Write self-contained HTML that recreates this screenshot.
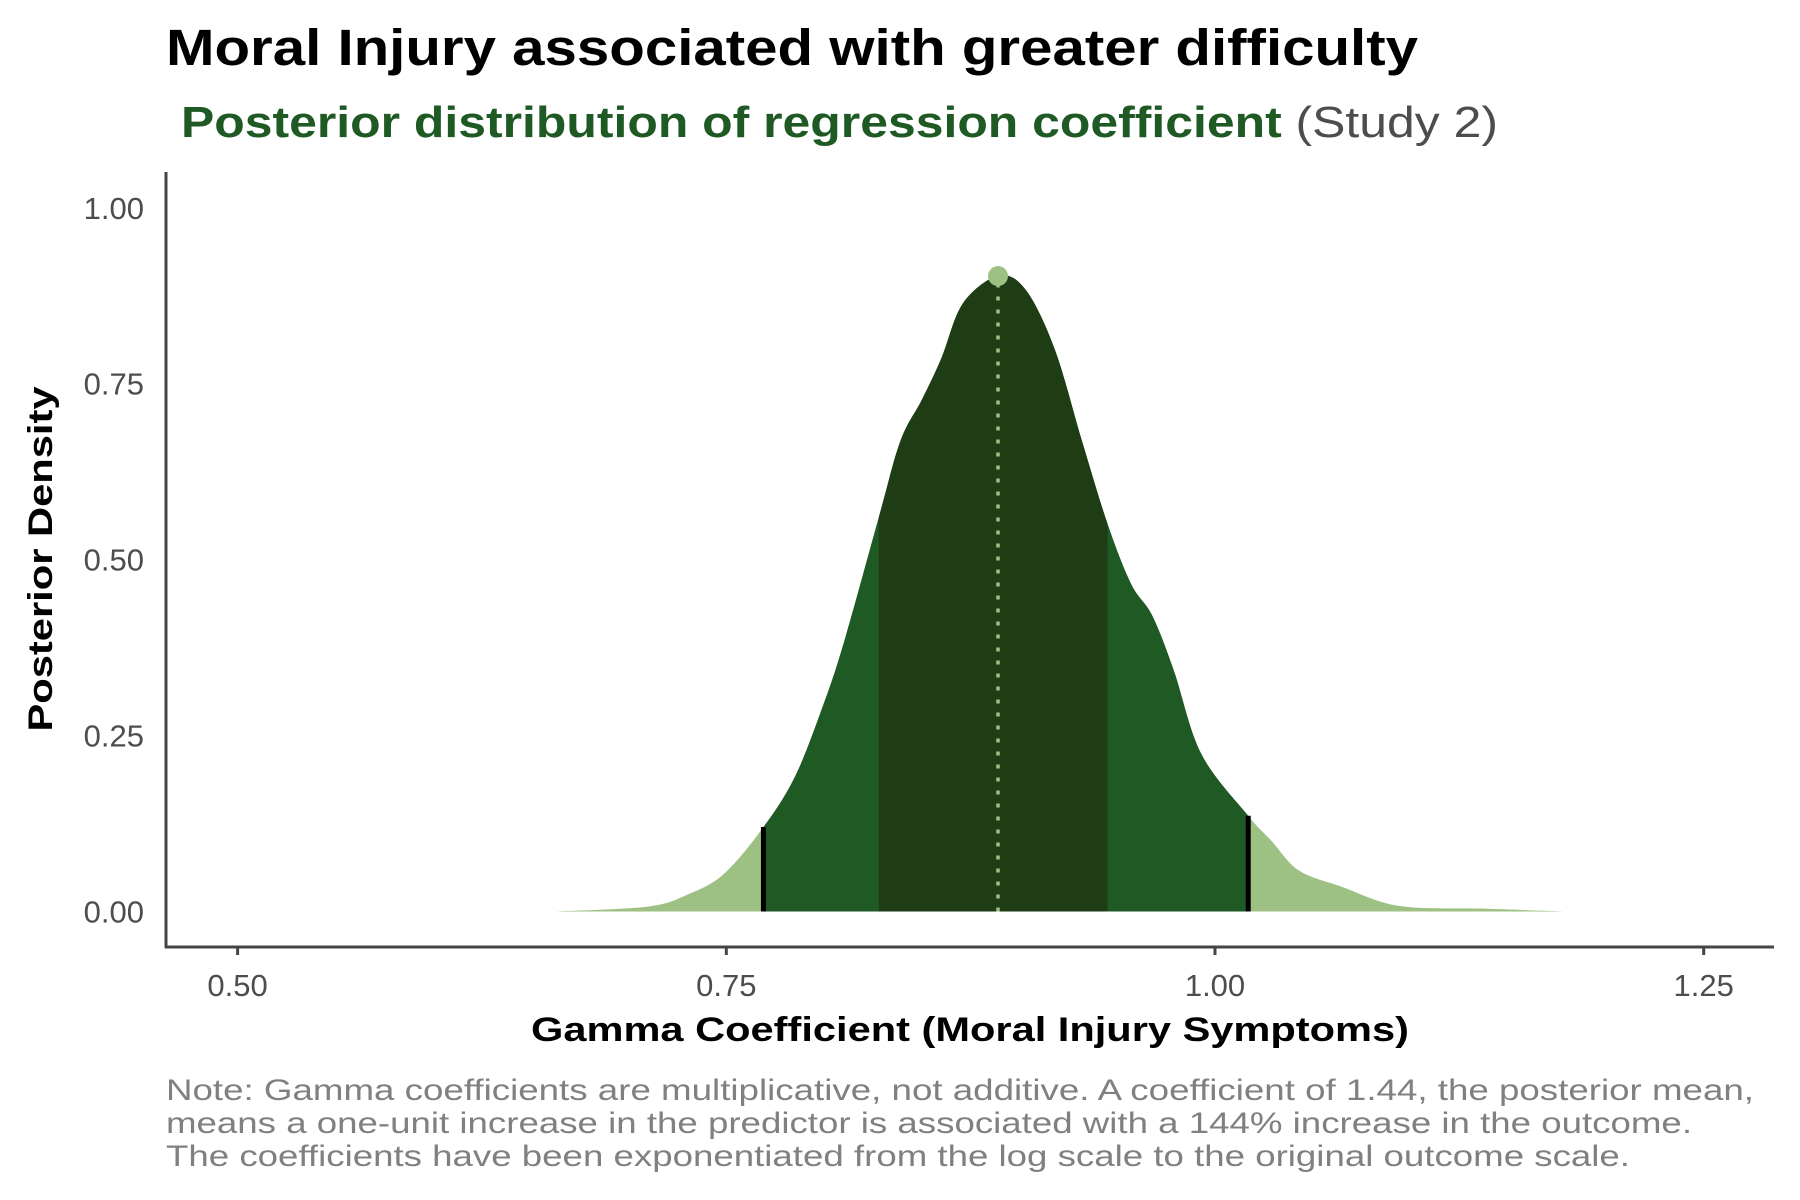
<!DOCTYPE html>
<html><head><meta charset="utf-8"><style>
html,body{margin:0;padding:0;background:#fff;}
svg{display:block;font-family:"Liberation Sans",Arial,sans-serif;}
</style></head><body>
<svg id="chart" width="1800" height="1200" viewBox="0 0 1800 1200" xmlns="http://www.w3.org/2000/svg">
<text x="166" y="65" font-size="51" font-weight="bold" fill="#000" textLength="1252" lengthAdjust="spacingAndGlyphs">Moral Injury associated with greater difficulty</text>
<text x="181" y="137" font-size="44" textLength="1317" lengthAdjust="spacingAndGlyphs"><tspan font-weight="bold" fill="#1f5a24">Posterior distribution of regression coefficient</tspan><tspan fill="#4d4d4d"> (Study 2)</tspan></text>
<g id="plot"></g>
<line x1="166" y1="172" x2="166" y2="948" stroke="#444" stroke-width="3"/>
<line x1="165" y1="947" x2="1774" y2="947" stroke="#444" stroke-width="3"/>
<g id="axes"></g>
<text transform="translate(52,559) rotate(-90)" text-anchor="middle" font-size="34" font-weight="bold" fill="#000" textLength="345" lengthAdjust="spacingAndGlyphs">Posterior Density</text>
<text x="970" y="1041" text-anchor="middle" font-size="34" font-weight="bold" fill="#000" textLength="878" lengthAdjust="spacingAndGlyphs">Gamma Coefficient (Moral Injury Symptoms)</text>
<g font-size="30" fill="#808080">
<text x="166" y="1100" textLength="1588" lengthAdjust="spacingAndGlyphs">Note: Gamma coefficients are multiplicative, not additive. A coefficient of 1.44, the posterior mean,</text>
<text x="166" y="1133" textLength="1526" lengthAdjust="spacingAndGlyphs">means a one-unit increase in the predictor is associated with a 144% increase in the outcome.</text>
<text x="166" y="1166" textLength="1464" lengthAdjust="spacingAndGlyphs">The coefficients have been exponentiated from the log scale to the original outcome scale.</text>
</g>
</svg>
<script>
const densX = [0.663,0.710,0.731,0.749,0.769,0.785,0.799,0.810,0.828,0.839,0.850,0.860,0.871,0.889,0.903,0.918,0.932,0.945,0.957,0.968,0.979,0.993,1.017,1.029,1.043,1.065,1.094,1.137,1.180];
const densY = [0,0.007,0.025,0.054,0.120,0.191,0.289,0.381,0.560,0.668,0.727,0.786,0.864,0.903,0.884,0.799,0.668,0.551,0.466,0.420,0.342,0.224,0.136,0.100,0.058,0.035,0.008,0.004,0];
const outerInterval = [0.769,1.017];
const innerInterval = [0.828,0.945];
const meanValue = [0.889];
const xTicks = [0.50,0.75,1.00,1.25];
const xTickLabels = ["0.50","0.75","1.00","1.25"];
const yTicks = [0,0.25,0.5,0.75,1.0];
const yTickLabels = ["0.00","0.25","0.50","0.75","1.00"];

const NS="http://www.w3.org/2000/svg";
function xs(v){return 237.6+(v-0.5)*1954.8;}
function ys(d){return 911.5-d*703.7;}
function mk(tag,attrs,parent){const e=document.createElementNS(NS,tag);for(const k in attrs)e.setAttribute(k,attrs[k]);parent.appendChild(e);return e;}
function interp(v){for(let i=0;i<densX.length-1;i++){if(v>=densX[i]&&v<=densX[i+1]){const t=(v-densX[i])/(densX[i+1]-densX[i]);return densY[i]+t*(densY[i+1]-densY[i]);}}return 0;}
const plot=document.getElementById('plot');
const axes=document.getElementById('axes');
const svg=document.getElementById('chart');
const pts=densX.map((x,i)=>[xs(x),ys(densY[i])]);
let d=`M${pts[0][0]},${ys(0)} L${pts[0][0]},${pts[0][1]}`;
for(let i=0;i<pts.length-1;i++){const p0=pts[Math.max(0,i-1)],p1=pts[i],p2=pts[i+1],p3=pts[Math.min(pts.length-1,i+2)];
const c1=[p1[0]+(p2[0]-p0[0])/6,p1[1]+(p2[1]-p0[1])/6],c2=[p2[0]-(p3[0]-p1[0])/6,p2[1]-(p3[1]-p1[1])/6];
d+=` C${c1[0]},${c1[1]} ${c2[0]},${c2[1]} ${p2[0]},${p2[1]}`;}
d+=` L${pts[pts.length-1][0]},${ys(0)} Z`;
const defs=mk('defs',{},svg);
function clip(id,a,b){const c=mk('clipPath',{id:id},defs);mk('rect',{x:xs(a),y:0,width:xs(b)-xs(a),height:1200},c);}
clip('clipOuter',outerInterval[0],outerInterval[1]);
clip('clipInner',innerInterval[0],innerInterval[1]);
const full=mk('path',{d:d,fill:'#9dc183'},plot);


const outer=mk('path',{d:d,fill:'#1f5a24','clip-path':'url(#clipOuter)'},plot);


const inner=mk('path',{d:d,fill:'#1e3d14','clip-path':'url(#clipInner)'},plot);


outerInterval.forEach((v,i)=>{const l=mk('line',{x1:xs(v),x2:xs(v),y1:ys(0),y2:ys(interp(v)),stroke:'#000','stroke-width':5},plot);

});
const mx=xs(meanValue[0]);
const ml=mk('line',{x1:mx,x2:mx,y1:ys(0),y2:ys(interp(meanValue[0])),stroke:'#9dc183','stroke-width':3.5,'stroke-dasharray':'4 9'},plot);


const pt=mk('circle',{cx:mx,cy:ys(interp(meanValue[0])),r:10,fill:'#9dc183'},plot);


xTicks.forEach((v,i)=>{const t=mk('line',{x1:xs(v),x2:xs(v),y1:947,y2:955,stroke:'#444','stroke-width':3},axes);


const tx=mk('text',{x:xs(v),y:996,'text-anchor':'middle','font-size':31,fill:'#4d4d4d'},axes);tx.textContent=xTickLabels[i];

});
yTicks.forEach((v,i)=>{const tx=mk('text',{x:144,y:ys(v)+11,'text-anchor':'end','font-size':31,fill:'#4d4d4d'},axes);tx.textContent=yTickLabels[i];

});
</script>
</body></html>
